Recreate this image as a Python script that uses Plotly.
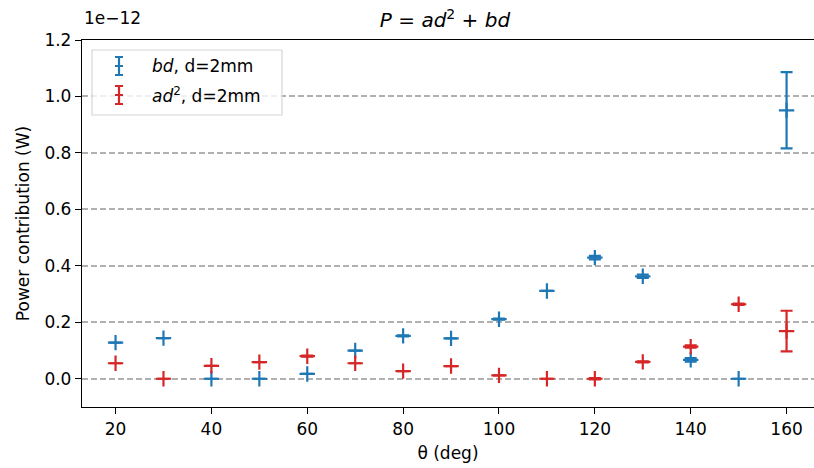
import plotly.graph_objects as go

# Data (power in units of 1e-12 W)
theta = [20, 30, 40, 50, 60, 70, 80, 90, 100, 110, 120, 130, 140, 150, 160]
bd_vals = [0.128, 0.144, 0.0, 0.0, 0.017, 0.100, 0.152, 0.143, 0.211, 0.311, 0.429, 0.363, 0.067, 0.0, 0.951]
bd_err = [0.0, 0.0, 0.0, 0.0, 0.0, 0.0, 0.002, 0.0, 0.002, 0.0, 0.006, 0.006, 0.006, 0.0, 0.135]
ad2_vals = [0.055, 0.0, 0.046, 0.059, 0.080, 0.055, 0.027, 0.045, 0.012, 0.0, 0.0, 0.060, 0.114, 0.264, 0.169]
ad2_err = [0.0, 0.0, 0.0, 0.0, 0.002, 0.0, 0.0, 0.0, 0.0, 0.0, 0.002, 0.002, 0.004, 0.002, 0.072]
y_ticks = [0.0, 0.2, 0.4, 0.6, 0.8, 1.0, 1.2]
x_ticks = [20, 40, 60, 80, 100, 120, 140, 160]

BLUE = "#1f77b4"
RED = "#d62728"
FONT = "DejaVu Sans"
FS = 17

fig = go.Figure()
for vals, errs, col in [(bd_vals, bd_err, BLUE), (ad2_vals, ad2_err, RED)]:
    fig.add_trace(go.Scatter(
        x=theta, y=vals, mode="markers", showlegend=False,
        marker=dict(symbol="cross-thin", size=11, color=col, line=dict(color=col, width=2.2)),
        error_y=dict(type="data", array=errs, visible=True, color=col, thickness=2.2, width=6),
    ))

W, H = 814, 468
L, R, T, B = 82, 0, 40, 61
pw, ph = W - L - R, H - T - B

def px(x):
    return (x - L) / pw

def py(y):
    return (H - B - y) / ph

shapes = []
# legend box
x0, x1, y0, y1 = px(92), px(282), py(50), py(115)
shapes.append(dict(type="rect", xref="paper", yref="paper", x0=x0, x1=x1, y0=y1, y1=y0,
                   line=dict(color="#d6d6d6", width=1.2), fillcolor="rgba(255,255,255,0.8)", layer="above"))
annotations = []
for cy, col, label in [(66, BLUE, "<i>bd</i>, d=2mm"), (95, RED, "<i>ad</i><sup>2</sup>, d=2mm")]:
    cx = 119
    shapes.append(dict(type="line", xref="paper", yref="paper", x0=px(cx), x1=px(cx), y0=py(cy - 9), y1=py(cy + 9),
                       line=dict(color=col, width=2.2), layer="above"))
    for yy in (cy - 9, cy + 9, cy):
        shapes.append(dict(type="line", xref="paper", yref="paper", x0=px(cx - 4), x1=px(cx + 4), y0=py(yy), y1=py(yy),
                           line=dict(color=col, width=2), layer="above"))
    annotations.append(dict(x=px(150), y=py(cy), xref="paper", yref="paper", text=label, showarrow=False,
                            xanchor="left", yanchor="middle", font=dict(family=FONT, size=FS, color="black")))

annotations.append(dict(x=0, y=py(18), xref="paper", yref="paper", text="1e\u221212", showarrow=False,
                        xanchor="left", yanchor="middle", font=dict(family=FONT, size=FS, color="black")))

fig.update_layout(
    width=W, height=H,
    margin=dict(l=L, r=R, t=T, b=B, autoexpand=False),
    paper_bgcolor="white", plot_bgcolor="white",
    font=dict(family=FONT, size=FS, color="black"),
    title=dict(text="<i>P</i> = <i>ad</i><sup>2</sup> + <i>bd</i>", x=(L + pw * 0.5 - 3) / W, xanchor="center",
               y=1 - 20 / H, yanchor="middle", font=dict(family=FONT, size=20)),
    shapes=shapes, annotations=annotations,
    xaxis=dict(range=[13, 13 + pw / 4.793], tickvals=x_ticks, showgrid=False, zeroline=False, automargin=False,
               showline=True, linecolor="black", linewidth=1.3, mirror=True,
               ticks="outside", ticklen=6, tickwidth=1.3, tickcolor="black",
               title=dict(text="θ (deg)", standoff=9, font=dict(size=FS))),
    yaxis=dict(range=[-0.1, 1.2], tickvals=y_ticks, tickformat=".1f", showgrid=True, automargin=False,
               gridcolor="#b0b0b0", gridwidth=1.6, griddash="6px,3px", zeroline=False,
               showline=True, linecolor="black", linewidth=1.3, mirror=False,
               ticks="outside", ticklen=6, tickwidth=1.3, tickcolor="black",
               title=dict(text="Power contribution (W)", standoff=10, font=dict(size=FS))),
)

fig.write_html("out.html", config={"displayModeBar": False},
               post_script="document.body.style.margin='0px';document.body.style.overflow='hidden';")
